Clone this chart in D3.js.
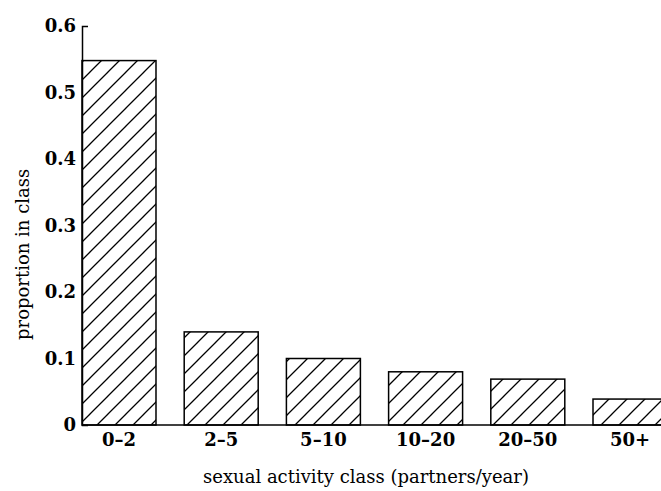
<!DOCTYPE html>
<html>
<head>
<meta charset="utf-8">
<script src="https://cdn.jsdelivr.net/npm/d3@7"></script>
<style>
  body { margin: 0; background: #fff; }
  svg { display: block; }
</style>
</head>
<body>
<svg id="chart"></svg>
<script>
// proportion of people in each sexual activity class
var classes = ["0\u20132", "2\u20135", "5\u201310", "10\u201320", "20\u201350", "50+"];
var proportions = [0.548, 0.140, 0.100, 0.080, 0.069, 0.039];
var yTicks = [0, 0.1, 0.2, 0.3, 0.4, 0.5, 0.6];

var width = 661, height = 491;
var margin = {left: 82, right: 0, top: 26, bottom: 66};

var svg = d3.select("#chart")
  .attr("width", width)
  .attr("height", height);

// hatch pattern for the bars
var defs = svg.append("defs");
var hatch = defs.append("pattern")
  .attr("id", "hatch")
  .attr("patternUnits", "userSpaceOnUse")
  .attr("width", 18)
  .attr("height", 18);
hatch.append("path")
  .attr("d", "M-4.5,4.5 L4.5,-4.5 M0,18 L18,0 M13.5,22.5 L22.5,13.5")
  .attr("stroke", "#000")
  .attr("stroke-width", 1.3);

var x = d3.scaleBand()
  .domain(classes)
  .range([margin.left, 667])
  .paddingInner(0.276)
  .paddingOuter(0)
  .align(0);

var y = d3.scaleLinear()
  .domain([0, 0.6])
  .range([height - margin.bottom, margin.top]);

svg.selectAll(".bar")
  .data(classes)
  .enter().append("rect")
  .attr("class", "bar")
  .attr("x", function(d) { return x(d); })
  .attr("y", function(d, i) { return y(proportions[i]); })
  .attr("width", x.bandwidth())
  .attr("height", function(d, i) { return y(0) - y(proportions[i]); })
  .attr("fill", "url(#hatch)")
  .attr("stroke", "#000")
  .attr("stroke-width", 1.5);

// y axis
var yAxis = svg.append("g")
  .attr("transform", "translate(" + margin.left + ",0)")
  .call(d3.axisLeft(y)
    .tickValues(yTicks)
    .tickSizeInner(0)
    .tickSizeOuter(-6)
    .tickPadding(6)
    .tickFormat(function(d) { return d === 0 ? "0" : d3.format(".1f")(d); }));
yAxis.select(".domain").attr("stroke-width", 1.5);
yAxis.selectAll("text")
  .attr("font-family", "'DejaVu Serif', serif")
  .attr("font-weight", "bold")
  .attr("font-size", 18)
  .attr("fill", "#000");

// x axis
var xAxis = svg.append("g")
  .attr("transform", "translate(0," + y(0) + ")")
  .call(d3.axisBottom(x).tickSize(0).tickPadding(8));
xAxis.select(".domain").attr("d", "M" + margin.left + ",0H" + width).attr("stroke-width", 1.5);
xAxis.selectAll("text")
  .attr("font-family", "'DejaVu Serif', serif")
  .attr("font-weight", "bold")
  .attr("font-size", 18)
  .attr("fill", "#000");

// axis titles
svg.append("text")
  .attr("x", 366)
  .attr("y", 483)
  .attr("text-anchor", "middle")
  .attr("font-family", "'DejaVu Serif', serif")
  .attr("font-size", 18)
  .text("sexual activity class (partners/year)");

svg.append("text")
  .attr("transform", "translate(29,340) rotate(-90)")
  .attr("text-anchor", "start")
  .attr("font-family", "'DejaVu Serif', serif")
  .attr("font-size", 18)
  .text("proportion in class");
</script>
</body>
</html>
